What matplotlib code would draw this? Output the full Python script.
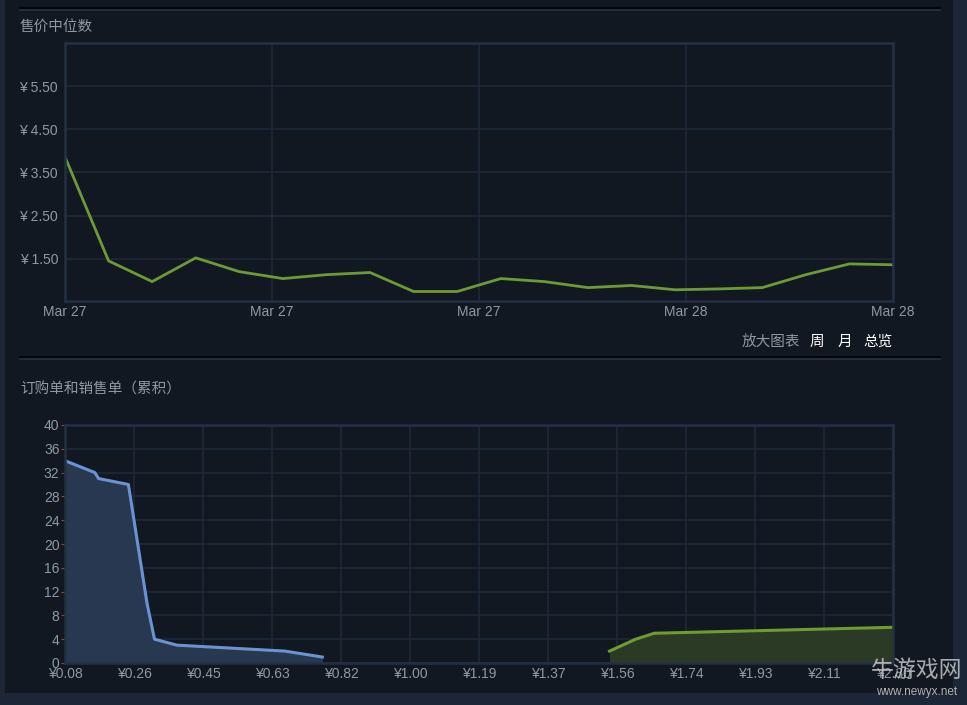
import matplotlib
matplotlib.use("Agg")
import matplotlib.pyplot as plt
from matplotlib.patches import Rectangle
from matplotlib.lines import Line2D

plt.rcParams['font.family'] = ['Liberation Sans', 'Noto Sans CJK SC', 'DejaVu Sans']

# median sale price, one point per sample
median_price = [3.86, 1.45, 0.97, 1.52, 1.20, 1.04, 1.13, 1.18, 0.74, 0.74,
                1.04, 0.97, 0.83, 0.88, 0.78, 0.80, 0.83, 1.13, 1.38, 1.36]
date_ticks = [0, 4.75, 9.5, 14.25, 19]
date_labels = ["Mar 27", "Mar 27", "Mar 27", "Mar 28", "Mar 28"]
price_ticks = [1.5, 2.5, 3.5, 4.5, 5.5]

# cumulative buy / sell orders
buy_price = [0.08, 0.16, 0.17, 0.25, 0.30, 0.32, 0.38, 0.67, 0.77]
buy_qty = [34, 32, 31, 30, 10, 4, 3, 2, 1]
sell_price = [1.54, 1.61, 1.66, 2.30]
sell_qty = [2, 4, 5, 6]
order_xticks = [0.08, 0.265, 0.45, 0.635, 0.82, 1.005, 1.19, 1.375, 1.56,
                1.745, 1.93, 2.115, 2.30]
order_xlabels = ["¥0.08", "¥0.26", "¥0.45", "¥0.63", "¥0.82", "¥1.00", "¥1.19",
                 "¥1.37", "¥1.56", "¥1.74", "¥1.93", "¥2.11", "¥2.30"]

W, H = 967, 705
bg = "#111821"
grid_c = "#1e2a3a"
spine_c = "#233043"
txt = "#8f98a0"

fig = plt.figure(figsize=(W / 100, H / 100), dpi=100, facecolor="#1b2636")
fig.patches.append(Rectangle((5 / W, 1 - 693 / H), 948 / W, 693 / H,
                             transform=fig.transFigure, facecolor=bg, zorder=-10))

def fx(px):
    return px / W

def fy(py):
    return 1 - py / H

# separators
for y0 in (9, 358):
    fig.add_artist(Line2D([fx(20), fx(940)], [fy(y0 - 1), fy(y0 - 1)], color="#000000", lw=1.2))
    fig.add_artist(Line2D([fx(20), fx(940)], [fy(y0 + 1), fy(y0 + 1)], color="#263244", lw=1.2))

fig.text(fx(20), fy(27), "售价中位数", color=txt, fontsize=10.5, va="center", ha="left")
fig.text(fx(20), fy(389), "订购单和销售单（累积）", color=txt, fontsize=10.5, va="center", ha="left")

fig.text(fx(800), fy(342), "放大图表", color=txt, fontsize=10.5, va="center", ha="right")
fig.text(fx(810), fy(342), "周", color="white", fontsize=10.5, va="center", ha="left")
fig.text(fx(838), fy(342), "月", color="white", fontsize=10.5, va="center", ha="left")
fig.text(fx(893), fy(342), "总览", color="white", fontsize=10.5, va="center", ha="right")

def style(ax):
    ax.set_facecolor(bg)
    for s in ax.spines.values():
        s.set_color(spine_c)
        s.set_linewidth(1.8)
    ax.grid(True, color=grid_c, lw=1.2)
    ax.set_axisbelow(True)
    ax.tick_params(colors=txt, labelsize=10, length=0)

# top: median price
ax1 = fig.add_axes([fx(65), fy(301), fx(893 - 65), (301 - 43) / H])
style(ax1)
ax1.plot(range(len(median_price)), median_price, color="#6d9a35", lw=2.0, solid_joinstyle="round")
ax1.set_xlim(0, len(median_price) - 1)
ax1.set_ylim(0.52, 6.5)
ax1.set_xticks(date_ticks)
ax1.set_xticklabels(date_labels)
ax1.set_yticks(price_ticks)
ax1.set_yticklabels(["¥ %.2f" % p for p in price_ticks])
ax1.tick_params(axis="x", pad=3)
ax1.tick_params(axis="y", pad=5)

# bottom: order book
ax2 = fig.add_axes([fx(65), fy(663), fx(893 - 65), (663 - 425) / H])
style(ax2)
ax2.fill_between(buy_price, buy_qty, 0, color="#283850", lw=0)
ax2.plot(buy_price, buy_qty, color="#6b93d3", lw=2.2, solid_joinstyle="round")
ax2.fill_between(sell_price, sell_qty, 0, color="#2b3a25", lw=0)
ax2.plot(sell_price, sell_qty, color="#6f9b30", lw=2.2, solid_joinstyle="round")
ax2.set_xlim(0.08, 2.30)
ax2.set_ylim(0, 40)
ax2.set_yticks(range(0, 41, 4))
ax2.set_xticks(order_xticks)
ax2.set_xticklabels(order_xlabels)
ax2.tick_params(axis="y", length=3, color="#8a4a2a", pad=1)
ax2.tick_params(axis="x", pad=3)

# site watermark
fig.text(fx(917), fy(670), "牛游戏网", color="#c4c4c4", fontsize=16.5, va="center", ha="center",
         alpha=0.85)
fig.text(fx(917), fy(692), "www.newyx.net", color="#b0b0b0", fontsize=8.5, va="center", ha="center")

fig.savefig("out.png", dpi=100, facecolor=fig.get_facecolor())
